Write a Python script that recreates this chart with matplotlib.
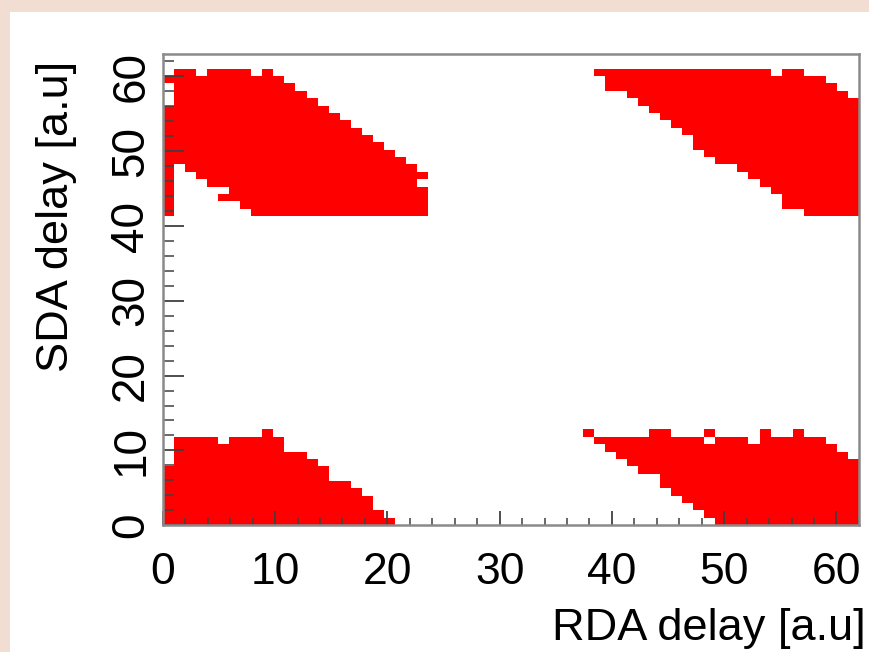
import numpy as np
import matplotlib
matplotlib.use("Agg")
import matplotlib.pyplot as plt
from matplotlib.colors import ListedColormap
from matplotlib.patches import Rectangle
from matplotlib import font_manager

# ---------------- data ----------------
n_rda_bins = 63          # RDA delay settings (x)
n_sda_bins = 64          # SDA delay settings (y)
rda_range = (0, 62)
sda_range = (0, 63)
x_label = "RDA delay [a.u]"
y_label = "SDA delay [a.u]"
tick_values = [0, 10, 20, 30, 40, 50, 60]

# good (filled) SDA bin ranges per RDA bin, for each region
top_left_cols = list(range(0, 24))
top_left_ranges = [
    [(42, 56), (60, 60)], [(49, 61)], [(48, 61)], [(47, 60)], [(46, 61)],
    [(44, 44), (46, 61)], [(44, 61)], [(43, 61)], [(42, 60)], [(42, 61)],
    [(42, 60)], [(42, 59)], [(42, 58)], [(42, 57)], [(42, 56)], [(42, 55)],
    [(42, 54)], [(42, 53)], [(42, 52)], [(42, 51)], [(42, 50)], [(42, 49)],
    [(42, 48)], [(42, 45), (47, 47)],
]

top_right_cols = list(range(39, 63))
top_right_ranges = [
    [(61, 61)], [(59, 61)], [(59, 61)], [(58, 61)], [(57, 61)], [(56, 61)],
    [(55, 61)], [(54, 61)], [(53, 61)], [(51, 61)], [(50, 61)], [(49, 61)],
    [(49, 61)], [(48, 61)], [(47, 61)], [(46, 61)], [(45, 60)], [(43, 61)],
    [(43, 61)], [(42, 60)], [(42, 60)], [(42, 59)], [(42, 58)], [(42, 57)],
]

bottom_left_cols = list(range(0, 21))
bottom_left_tops = [7, 11, 11, 11, 11, 10, 11, 11, 11, 12, 11, 9, 9, 8, 7,
                    5, 5, 4, 3, 1, 0]

bottom_right_cols = list(range(38, 63))
bottom_right_ranges = [
    [(12, 12)], [(11, 11)], [(10, 11)], [(9, 11)], [(8, 11)], [(7, 11)],
    [(7, 12)], [(5, 12)], [(4, 11)], [(3, 11)], [(2, 11)], [(1, 10), (12, 12)],
    [(0, 11)], [(0, 11)], [(0, 11)], [(0, 10)], [(0, 12)], [(0, 11)],
    [(0, 11)], [(0, 12)], [(0, 11)], [(0, 11)], [(0, 10)], [(0, 9)], [(0, 8)],
]

# ---------------- build histogram ----------------
grid = np.zeros((n_sda_bins, n_rda_bins))
for cols, rngs in [(top_left_cols, top_left_ranges),
                   (top_right_cols, top_right_ranges),
                   (bottom_right_cols, bottom_right_ranges)]:
    for c, rl in zip(cols, rngs):
        for lo, hi in rl:
            grid[lo:hi + 1, c] = 1
for c, top in zip(bottom_left_cols, bottom_left_tops):
    grid[0:top + 1, c] = 1

xedges = np.linspace(rda_range[0], rda_range[1], n_rda_bins + 1)
yedges = np.linspace(sda_range[0], sda_range[1], n_sda_bins + 1)

# ---------------- fonts ----------------
def pick_font(names):
    for n in names:
        try:
            font_manager.findfont(n, fallback_to_default=False)
            return n
        except Exception:
            continue
    return "DejaVu Sans"

font = pick_font(["Liberation Sans Narrow", "Liberation Sans", "DejaVu Sans"])
plt.rcParams["font.family"] = [font, "DejaVu Sans"]

# ---------------- figure ----------------
fig = plt.figure(figsize=(8.7, 6.52), dpi=100)
fig.patch.set_facecolor("#f2ddd3")
fig.add_artist(Rectangle((10 / 870, 0), 1, 1 - 12 / 652, transform=fig.transFigure,
                         facecolor="white", edgecolor="none", zorder=-5))

ax = fig.add_axes([0.1872, 0.1945, 0.8001, 0.7227])
ax.set_facecolor("white")

masked = np.ma.masked_where(grid == 0, grid)
ax.pcolormesh(xedges, yedges, masked, cmap=ListedColormap(["#ff0000"]),
              vmin=0, vmax=1, shading="flat", edgecolors="none",
              antialiased=False)

ax.set_xlim(*rda_range)
ax.set_ylim(*sda_range)

ax.set_xticks(tick_values)
ax.set_yticks(tick_values)
ax.set_xticks(np.arange(0, 63, 2), minor=True)
ax.set_yticks(np.arange(0, 64, 2), minor=True)
ax.set_xticklabels([str(v) for v in tick_values])
ax.set_yticklabels([str(v) for v in tick_values])

for s in ax.spines.values():
    s.set_color("#8a8a8a")
    s.set_linewidth(1.8)

ax.tick_params(axis="x", which="major", direction="in", length=10, width=1.3,
               color="#404040", labelsize=32, pad=19)
ax.tick_params(axis="x", which="minor", direction="in", length=5, width=1.1,
               color="#404040")
ax.tick_params(axis="y", which="major", direction="in", length=15, width=1.3,
               color="#404040", labelsize=33, pad=7, labelrotation=90)
ax.tick_params(axis="y", which="minor", direction="in", length=8, width=1.1,
               color="#404040")
for lab in ax.get_yticklabels():
    lab.set_va("center")

ax.set_xlabel(x_label, fontsize=32.5, loc="right")
ax.set_ylabel(y_label, fontsize=32.5, loc="top")
ax.xaxis.set_label_coords(1.010, -0.175)
ax.yaxis.set_label_coords(-0.124, 0.985)

fig.savefig("out.png", dpi=100, facecolor=fig.get_facecolor())
